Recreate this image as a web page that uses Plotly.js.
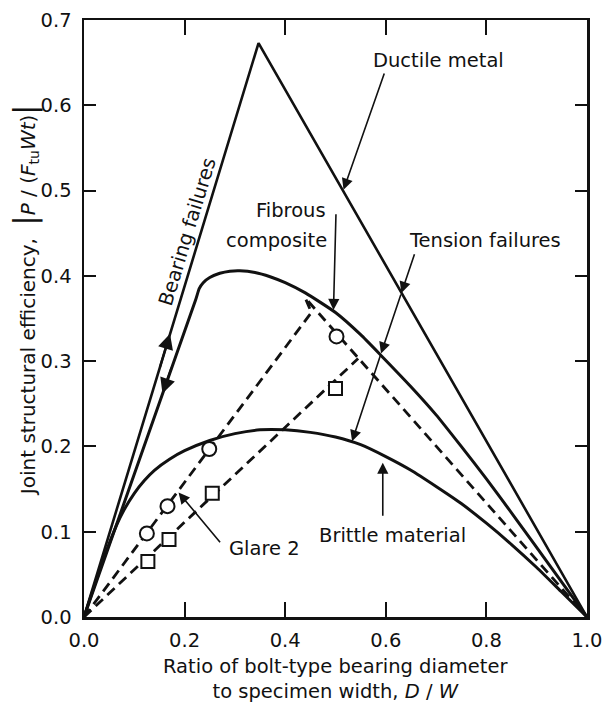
<!DOCTYPE html>
<html>
<head>
<meta charset="utf-8">
<script src="https://cdn.plot.ly/plotly-3.0.1.min.js"></script>
<style>html,body{margin:0;padding:0;background:#fff}</style>
</head>
<body>
<div id="chart" style="width:602px;height:704px"></div>
<script>
// Joint structural efficiency versus bolt diameter / specimen width

// Ductile metal: bearing line up to the peak, then net-tension line down to 1.0
const ductileX = [0, 0.347, 1.0];
const ductileY = [0, 0.673, 0];

// Fibrous composite
const compositeX = [0, 0.222, 0.229, 0.237, 0.250, 0.270, 0.290, 0.310, 0.340, 0.370, 0.400, 0.440, 0.500, 0.550, 0.590, 0.650, 0.700, 0.750, 0.800, 0.860, 0.930, 1.0];
const compositeY = [0, 0.372, 0.385, 0.392, 0.398, 0.403, 0.4055, 0.406, 0.404, 0.399, 0.392, 0.380, 0.357, 0.331, 0.307, 0.270, 0.237, 0.200, 0.162, 0.114, 0.057, 0];

// Brittle material
const brittleX = [0, 0.040, 0.065, 0.080, 0.100, 0.120, 0.140, 0.170, 0.200, 0.250, 0.300, 0.350, 0.400, 0.450, 0.500, 0.550, 0.600, 0.650, 0.700, 0.750, 0.800, 0.850, 0.900, 0.950, 1.0];
const brittleY = [0, 0.070, 0.108, 0.126, 0.145, 0.160, 0.172, 0.185, 0.195, 0.207, 0.215, 0.2195, 0.2195, 0.2165, 0.211, 0.202, 0.188, 0.172, 0.153, 0.133, 0.110, 0.085, 0.058, 0.029, 0];

// Glare 2 trend lines (dashed)
const glareUpperX = [0, 0.452, 0.440, 1.0];
const glareUpperY = [0, 0.357, 0.374, 0];
const glareLowerX = [0, 0.545];
const glareLowerY = [0, 0.303];

// Glare 2 test points
const circleX = [0.125, 0.166, 0.249, 0.502];
const circleY = [0.098, 0.130, 0.197, 0.329];
const squareX = [0.127, 0.169, 0.255, 0.500];
const squareY = [0.065, 0.091, 0.145, 0.268];

// Axis ticks
const xTicks = [0, 0.2, 0.4, 0.6, 0.8, 1.0];
const xTickText = ['0.0', '0.2', '0.4', '0.6', '0.8', '1.0'];
const yTicks = [0, 0.1, 0.2, 0.3, 0.4, 0.5, 0.6, 0.7];
const yTickText = ['0.0', '0.1', '0.2', '0.3', '0.4', '0.5', '0.6', '0.7'];

const FONT = 'DejaVu Sans, Verdana, sans-serif';
const INK = '#111';

const solid = (x, y, w) => ({
  x, y, type: 'scatter', mode: 'lines', hoverinfo: 'skip',
  line: {color: INK, width: w, shape: 'spline', smoothing: 0.5}
});
const dashed = (x, y) => ({
  x, y, type: 'scatter', mode: 'lines', hoverinfo: 'skip',
  line: {color: INK, width: 2.8, dash: '10px,6px'}
});

const traces = [
  Object.assign(solid(ductileX, ductileY, 2.6), {line: {color: INK, width: 2.6}}),
  solid(compositeX, compositeY, 3),
  solid(brittleX, brittleY, 3),
  dashed(glareUpperX, glareUpperY),
  dashed(glareLowerX, glareLowerY),
  {x: circleX, y: circleY, type: 'scatter', mode: 'markers', hoverinfo: 'skip',
   marker: {symbol: 'circle', size: 14, color: '#fff', line: {color: INK, width: 2}}},
  {x: squareX, y: squareY, type: 'scatter', mode: 'markers', hoverinfo: 'skip',
   marker: {symbol: 'square', size: 13, color: '#fff', line: {color: INK, width: 2}}}
];

// Text labels
const label = (text, x, y, extra) => Object.assign({
  text, x, y, xref: 'x', yref: 'y', showarrow: false,
  font: {family: FONT, size: 19.5, color: INK}
}, extra || {});

// Arrow pointers: tail (ax, ay) to head (x, y), in data units
const arrow = (ax, ay, x, y, w) => ({
  text: '', x, y, ax, ay, xref: 'x', yref: 'y', axref: 'x', ayref: 'y',
  showarrow: true, arrowhead: 2, arrowsize: 1.4, arrowwidth: w || 1.6,
  arrowcolor: INK, standoff: 0, startstandoff: 0
});

const annotations = [
  label('Ductile metal', 0.705, 0.653),
  label('Bearing failures', 0.205, 0.451, {textangle: -73}),
  label('Fibrous', 0.486, 0.477, {xanchor: 'right'}),
  label('composite', 0.487, 0.442, {xanchor: 'right'}),
  label('Tension failures', 0.798, 0.442),
  label('Brittle material', 0.614, 0.096),
  label('Glare 2', 0.359, 0.080),

  arrow(0.598, 0.639, 0.516, 0.501),
  arrow(0.501, 0.474, 0.496, 0.360),
  arrow(0.658, 0.427, 0.631, 0.380),
  arrow(0.631, 0.380, 0.5905, 0.309),
  arrow(0.5905, 0.309, 0.533, 0.206),
  arrow(0.594, 0.117, 0.594, 0.181),
  arrow(0.273, 0.086, 0.188, 0.146),
  arrow(0.150, 0.291, 0.171, 0.332, 2.2),
  arrow(0.175, 0.294, 0.156, 0.262, 2.2),

  // Axis titles
  {text: 'Joint structural efficiency,  <span style="font-size:30px">|</span><i>P</i> / (<i>F</i><sub>tu</sub><i>Wt</i>)<span style="font-size:30px">|</span>',
   xref: 'paper', yref: 'paper', x: -0.117, y: 0.531, xanchor: 'center', yanchor: 'middle',
   textangle: -90, showarrow: false, font: {family: FONT, size: 20, color: INK}},
  {text: 'Ratio of bolt-type bearing diameter<br>to specimen width, <i>D</i> / <i>W</i>',
   xref: 'paper', yref: 'paper', x: 0.5, y: 0, yanchor: 'top', yshift: -36,
   showarrow: false, font: {family: FONT, size: 19.5, color: INK}}
];

const axisCommon = {
  showgrid: false, zeroline: false, showline: true, linecolor: INK, linewidth: 2.5,
  mirror: 'ticks', ticks: 'inside', tickcolor: INK, tickwidth: 2,
  ticklabeloverflow: 'allow',
  tickfont: {family: FONT, size: 19.5, color: INK}, fixedrange: true
};

const layout = {
  width: 602, height: 704,
  margin: {l: 84, r: 15, t: 20, b: 87},
  paper_bgcolor: '#fff', plot_bgcolor: '#fff',
  showlegend: false,
  xaxis: Object.assign({}, axisCommon, {
    range: [0, 1], tickvals: xTicks, ticktext: xTickText, ticklen: 15, ticklabelstandoff: 4
  }),
  yaxis: Object.assign({}, axisCommon, {
    range: [0, 0.7], tickvals: yTicks, ticktext: yTickText, ticklen: 12, ticklabelstandoff: 6
  }),
  annotations
};

Plotly.newPlot('chart', traces, layout, {staticPlot: true, displayModeBar: false});
</script>
</body>
</html>
